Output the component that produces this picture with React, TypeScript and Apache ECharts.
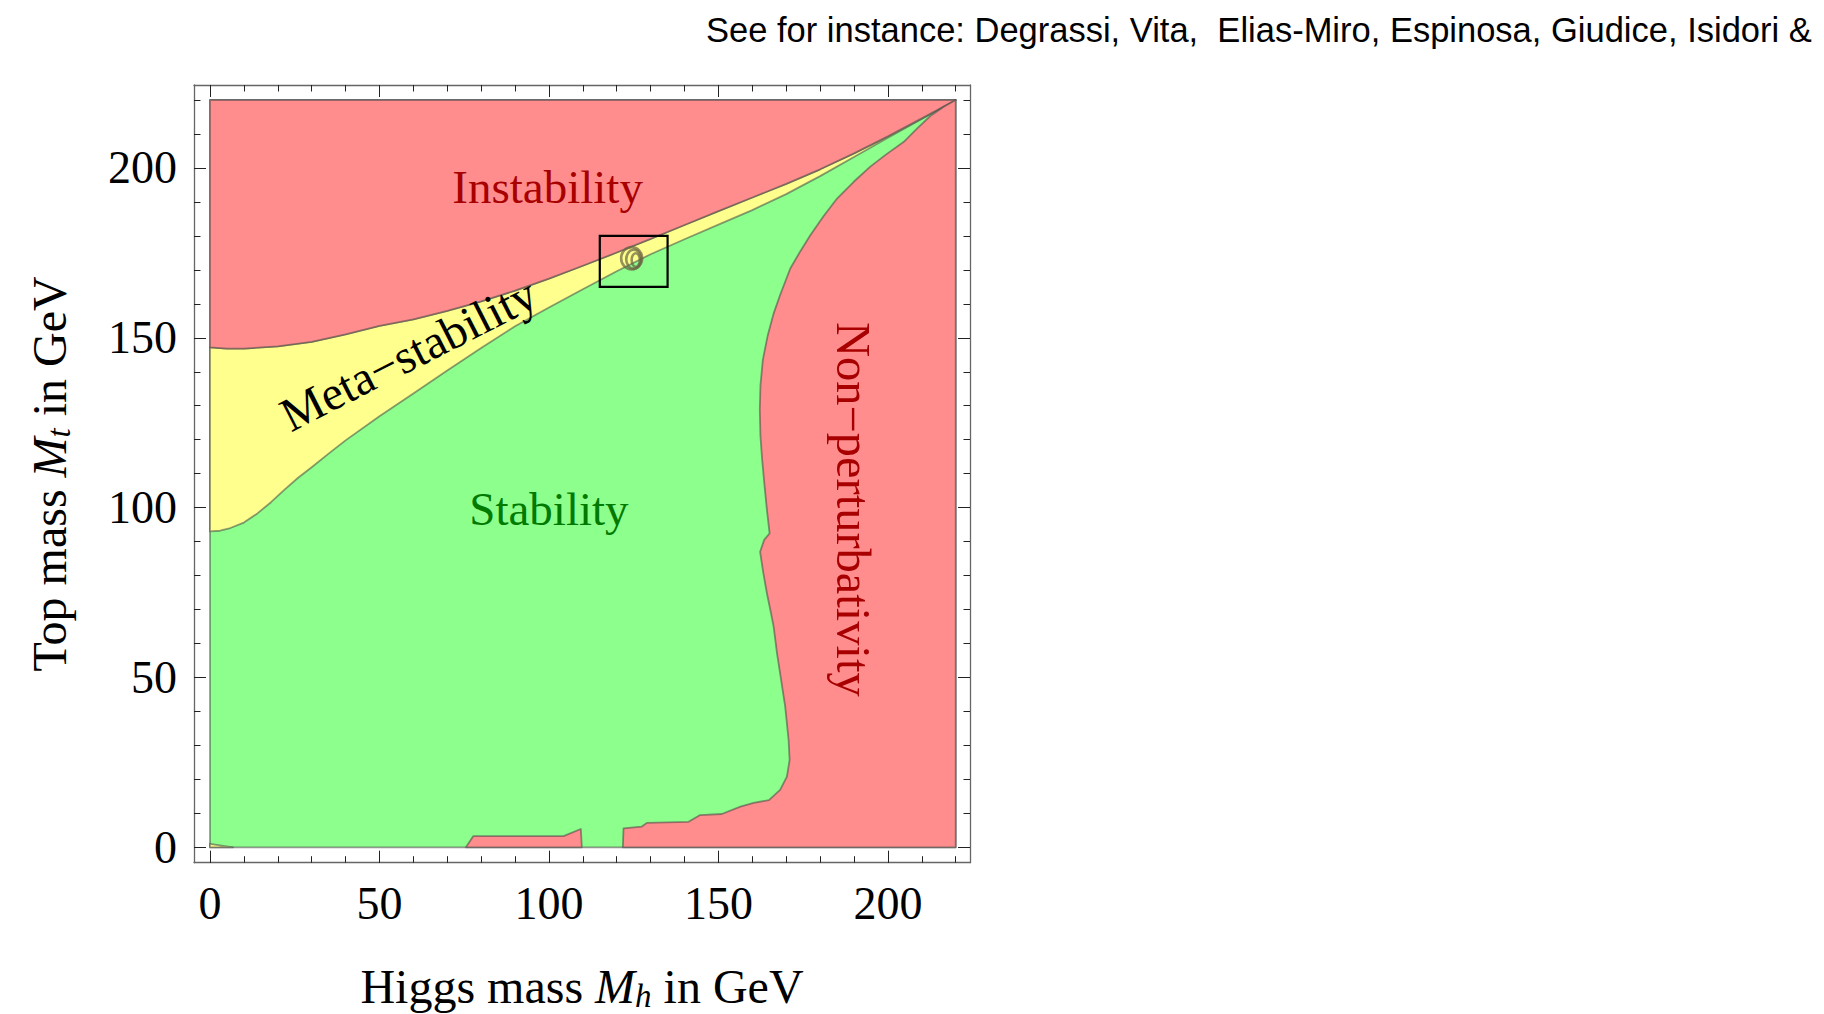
import React, { useEffect, useRef } from "react";
import * as echarts from "echarts";

// ---------- data (Higgs mass M_h, top mass M_t, GeV) ----------
const plotRange = [0, 220];
const majorTicks = [0, 50, 100, 150, 200];
const minorTicks = [0, 10, 20, 30, 40, 50, 60, 70, 80, 90, 100, 110, 120, 130, 140, 150, 160, 170, 180, 190, 200, 210, 220];

// boundary instability / meta-stability
const instabilityBoundary = [
  [0, 147.2], [5, 146.8], [10, 146.8], [20, 147.5], [30, 148.8], [40, 151.0], [50, 153.5], [60, 155.4],
  [70, 157.9], [80, 160.7], [90, 163.9], [100, 167.4], [110, 171.2], [120, 175.1], [130, 179.1],
  [140, 183.2], [150, 187.3], [160, 191.3], [170, 195.3], [180, 199.6], [190, 204.3], [200, 209.3],
  [210, 214.6], [220, 220],
];

// boundary meta-stability / stability
const metastabilityBoundary = [
  [0, 93.0], [3, 93.2], [6, 94.0], [10, 95.6], [14, 98.3], [18, 101.6], [22, 105.3], [26, 108.8],
  [30, 111.9], [35, 115.9], [40, 119.8], [50, 126.9], [60, 133.6], [70, 140.4], [80, 147.0],
  [90, 153.4], [100, 158.9], [110, 164.3], [120, 169.6], [130, 174.6], [140, 179.0], [150, 183.3],
  [160, 187.6], [170, 192.3], [180, 197.6], [190, 203.2], [200, 208.9], [210, 214.4], [220, 220],
];

// boundary stability / non-perturbativity (from the top-right corner down to M_t = 0)
const perturbativityBoundary = [
  [220, 220], [216.5, 218.0], [212.5, 215.3], [208.5, 211.5], [204.7, 207.7], [199.5, 204.0],
  [194.8, 200.4], [190, 196.0], [185, 191.0], [181, 185.8], [177.1, 180.2], [174, 175.2],
  [171.2, 170.4], [168.2, 162.6], [166.3, 157.2], [164.5, 150.5], [163.1, 143.5], [162.4, 136],
  [162.2, 128.8], [162.4, 121], [162.9, 114.1], [163.6, 106.5], [164.3, 99.4], [165.1, 92.4],
  [163.5, 90.5], [162.3, 87.0], [163.2, 81], [164.3, 74.8], [165.4, 69.5], [166.3, 64.9],
  [167.3, 57], [168.2, 51.2], [169.7, 41.4], [170.7, 31.6], [171.0, 25.7], [170.2, 20.8],
  [168.2, 16.9], [164.9, 13.9], [160.4, 13.1], [156.5, 12.0], [151.0, 9.8], [144.6, 9.5],
  [141.2, 7.5], [128.9, 7.2], [127.4, 6.1], [122.0, 5.6], [121.8, 0],
];

// small non-perturbative island at low top mass
const lowTopIsland = [[75.5, 0], [77.7, 3.3], [104.3, 3.3], [109.4, 5.4], [109.7, 0]];
// tiny meta-stable sliver at the origin
const originSliver = [[0, 0], [0, 1.0], [6.8, 0]];

// measured point and its contours: [M_h, M_t, dM_h, dM_t]
const measurementContours = [
  [124.4, 173.4, 3.1, 3.3],
  [125.0, 173.1, 2.2, 2.8],
  [125.6, 172.9, 1.2, 2.0],
];
const zoomBox = [[115, 165], [135, 180]];

const labelTexts = ["Instability", "Meta\u2212stability", "Stability", "Non\u2212perturbativity"];
const labelAnchors = [[99.6, 194.5], [58.5, 145.2], [100, 99.5], [189.8, 99.5]];
const labelAngles = [0, 27, 0, -90];
const labelSizes = [47, 48, 47, 48.5];

const citation = "See for instance: Degrassi, Vita,  Elias-Miro, Espinosa, Giudice, Isidori &";

// ---------- styles ----------
const RED = "#FF8D8D";
const YELLOW = "#FFFF8D";
const GREEN = "#8DFF8D";
const EDGE = "rgba(70,70,70,0.55)";
const FRAME = "#666";
const TICK = "#222";
const SERIF = '"Liberation Serif", "Times New Roman", Times, serif';
const SANS = '"Liberation Sans", Arial, Helvetica, sans-serif';
const labelColors = ["#A80000", "#000000", "#007A00", "#A80000"];

// axis padding around the 0..220 range (frame sits outside the data area)
const X_MIN = -4.72, X_MAX = 224.22;
const Y_MIN = -4.53, Y_MAX = 224.42;

const regions = [
  { pts: [[plotRange[0], plotRange[0]], [plotRange[0], plotRange[1]], [plotRange[1], plotRange[1]], [plotRange[1], plotRange[0]]], fill: GREEN },
  { pts: [...instabilityBoundary, ...metastabilityBoundary.slice().reverse()], fill: YELLOW },
  { pts: [[plotRange[0], plotRange[1]], ...instabilityBoundary], fill: RED },
  { pts: [...perturbativityBoundary, [plotRange[1], plotRange[0]]], fill: RED },
  { pts: lowTopIsland, fill: RED },
  { pts: originSliver, fill: YELLOW },
];

function makeAxes(dim: "x" | "y") {
  const isX = dim === "x";
  const base: any = {
    type: "value",
    min: isX ? X_MIN : Y_MIN,
    max: isX ? X_MAX : Y_MAX,
    splitLine: { show: false },
    gridIndex: 0,
  };
  const line = { show: true, onZero: false, lineStyle: { color: FRAME, width: 1.3 } };
  const noLine = { show: false, onZero: false };
  const major = { show: true, inside: true, length: 12, customValues: majorTicks, lineStyle: { color: TICK, width: 1 } };
  const minor = { show: true, inside: true, length: 6.5, customValues: minorTicks, lineStyle: { color: TICK, width: 1 } };
  const pos1 = isX ? "bottom" : "left";
  const pos2 = isX ? "top" : "right";
  const rich = {
    r: { fontFamily: SERIF, fontSize: 48, lineHeight: 52, color: "#000" },
    i: { fontFamily: SERIF, fontStyle: "italic", fontSize: 48, lineHeight: 52, color: "#000" },
    s: { fontFamily: SERIF, fontStyle: "italic", fontSize: 33, lineHeight: 33, verticalAlign: "bottom", color: "#000" },
  };
  return [
    {
      ...base,
      position: pos1,
      axisLine: line,
      axisTick: major,
      axisLabel: {
        show: true,
        customValues: majorTicks,
        margin: isX ? 18 : 17,
        fontSize: 46,
        fontFamily: SERIF,
        color: "#000",
      },
      name: isX ? "{r|Higgs mass }{i|M}{s|h}{r| in GeV}" : "{r|Top mass }{i|M}{s|t}{r| in GeV}",
      nameLocation: "middle",
      nameRotate: isX ? 0 : 90,
      nameGap: isX ? 98 : 119,
      nameTextStyle: { fontFamily: SERIF, fontSize: 48, color: "#000", rich },
    },
    { ...base, position: pos1, axisLine: noLine, axisTick: minor, axisLabel: { show: false } },
    { ...base, position: pos2, axisLine: line, axisTick: major, axisLabel: { show: false } },
    { ...base, position: pos2, axisLine: noLine, axisTick: minor, axisLabel: { show: false } },
  ];
}

export default function App() {
  const ref = useRef<HTMLDivElement>(null);

  useEffect(() => {
    if (!ref.current) return;
    const chart = echarts.init(ref.current, null, { renderer: "svg" });

    const option: any = {
      animation: false,
      backgroundColor: "#ffffff",
      grid: { left: 194, top: 85, width: 776, height: 777.7, containLabel: false, outerBoundsMode: "none" },
      xAxis: makeAxes("x"),
      yAxis: makeAxes("y"),
      graphic: [
        {
          type: "text",
          left: 706,
          top: 12,
          style: { text: citation, fill: "#000", fontSize: 34.5, fontFamily: SANS },
        },
      ],
      series: [
        {
          type: "custom",
          name: "regions",
          coordinateSystem: "cartesian2d",
          xAxisIndex: 0,
          yAxisIndex: 0,
          clip: false,
          silent: true,
          z: 1,
          data: regions.map((r, i) => [r.pts[0][0], r.pts[0][1], i]),
          encode: { x: 0, y: 1 },
          renderItem: (params: any, api: any) => {
            const r = regions[params.dataIndex];
            return {
              type: "polygon",
              shape: { points: r.pts.map((p) => api.coord(p)) },
              style: { fill: r.fill, stroke: EDGE, lineWidth: 1.8, lineJoin: "round" },
            };
          },
        },
        {
          type: "custom",
          name: "measurement",
          coordinateSystem: "cartesian2d",
          xAxisIndex: 0,
          yAxisIndex: 0,
          clip: false,
          silent: true,
          z: 2,
          data: measurementContours.map((c) => [c[0], c[1], c[2], c[3]]),
          encode: { x: 0, y: 1 },
          renderItem: (params: any, api: any) => {
            const c = api.coord([api.value(0), api.value(1)]);
            const s = api.size([api.value(2), api.value(3)]);
            return {
              type: "ellipse",
              shape: { cx: c[0], cy: c[1], rx: s[0], ry: s[1] },
              style: { fill: "none", stroke: "rgba(105,100,65,0.7)", lineWidth: 2.6 },
            };
          },
        },
        {
          type: "custom",
          name: "box",
          coordinateSystem: "cartesian2d",
          xAxisIndex: 0,
          yAxisIndex: 0,
          clip: false,
          silent: true,
          z: 3,
          data: [[zoomBox[0][0], zoomBox[0][1], zoomBox[1][0], zoomBox[1][1]]],
          encode: { x: [0, 2], y: [1, 3] },
          renderItem: (params: any, api: any) => {
            const a = api.coord([api.value(0), api.value(1)]);
            const b = api.coord([api.value(2), api.value(3)]);
            return {
              type: "rect",
              shape: { x: Math.min(a[0], b[0]), y: Math.min(a[1], b[1]), width: Math.abs(b[0] - a[0]), height: Math.abs(b[1] - a[1]) },
              style: { fill: "none", stroke: "#000", lineWidth: 2.2 },
            };
          },
        },
        {
          type: "custom",
          name: "labels",
          coordinateSystem: "cartesian2d",
          xAxisIndex: 0,
          yAxisIndex: 0,
          clip: false,
          silent: true,
          z: 4,
          data: labelAnchors.map((p, i) => [p[0], p[1], i]),
          encode: { x: 0, y: 1 },
          renderItem: (params: any, api: any) => {
            const i = params.dataIndex;
            const p = api.coord([api.value(0), api.value(1)]);
            return {
              type: "text",
              x: p[0],
              y: p[1],
              rotation: (labelAngles[i] * Math.PI) / 180,
              style: {
                text: labelTexts[i],
                fill: labelColors[i],
                fontSize: labelSizes[i],
                fontFamily: SERIF,
                align: "center",
                verticalAlign: "middle",
              },
            };
          },
        },
      ],
    };

    chart.setOption(option);
    return () => chart.dispose();
  }, []);

  return (
    <div
      ref={ref}
      style={{ position: "fixed", left: 0, top: 0, width: "1824px", height: "1014px", background: "#fff" }}
    />
  );
}
